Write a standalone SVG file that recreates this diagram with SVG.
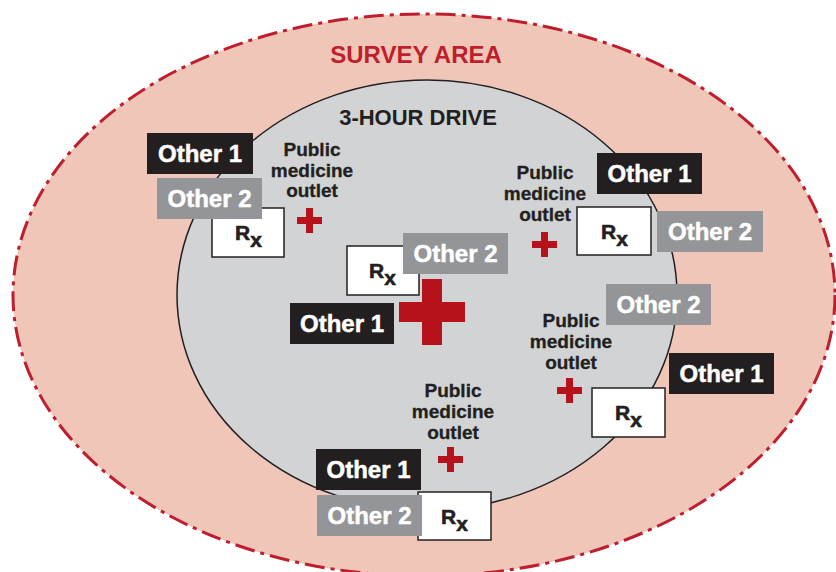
<svg xmlns="http://www.w3.org/2000/svg" width="836" height="572" viewBox="0 0 836 572">
<style>
.o1{fill:#231f20}
.o2{fill:#939598}
.ot{font-family:"Liberation Sans",Arial,sans-serif;font-weight:bold;font-size:24px;fill:#ffffff;stroke:#ffffff;stroke-width:0.5;text-anchor:middle}
.rx{fill:#ffffff;stroke:#231f20;stroke-width:1.5}
.rt{font-family:"Liberation Sans",Arial,sans-serif;font-weight:bold;fill:#231f20;stroke:#231f20;stroke-width:0.6}
.pm{font-family:"Liberation Sans",Arial,sans-serif;font-weight:bold;font-size:19px;fill:#231f20;stroke:#231f20;stroke-width:0.3;text-anchor:middle}
.cr{fill:#b5121b}
.ttl{font-family:"Liberation Sans",Arial,sans-serif;font-weight:bold;text-anchor:middle}
</style>
<defs>
<path id="cross" d="M-3.5,-12.5h7v9h9v7h-9v9h-7v-9h-9v-7h9z"/>
</defs>
<g id="survey-area">
<ellipse cx="424" cy="295" rx="411" ry="281" fill="#efc6b8" stroke="#be1e2d" stroke-width="3" stroke-dasharray="20 6 4 6"/>
<text class="ttl" x="416" y="63" font-size="24" fill="#be1e2d">SURVEY AREA</text>
</g>
<g id="three-hour-drive">
<ellipse cx="427" cy="295" rx="250" ry="215" fill="#d1d3d4" stroke="#231f20" stroke-width="1.5"/>
<text class="ttl" x="418" y="125" font-size="22" fill="#231f20">3-HOUR DRIVE</text>
</g>
<g id="cluster-top-left">
<rect class="o1" x="147" y="133" width="106" height="41"/>
<text class="ot" x="200" y="162">Other 1</text>
<rect class="rx" x="212" y="208" width="72" height="49"/>
<text class="rt" x="235" y="240" font-size="21">R<tspan y="247">x</tspan></text>
<rect class="o2" x="157" y="178" width="105" height="41"/>
<text class="ot" x="209.5" y="207">Other 2</text>
<text class="pm" x="312" y="156">Public</text>
<text class="pm" x="312" y="176.5">medicine</text>
<text class="pm" x="312" y="197">outlet</text>
<use href="#cross" class="cr" x="309.5" y="220.5"/>
</g>
<g id="cluster-top-right">
<rect class="o1" x="597" y="153" width="105" height="41"/>
<text class="ot" x="649.5" y="182">Other 1</text>
<rect class="rx" x="577" y="207" width="74" height="48"/>
<text class="rt" x="601" y="239" font-size="21">R<tspan y="246">x</tspan></text>
<rect class="o2" x="657" y="211" width="106" height="41"/>
<text class="ot" x="710" y="240">Other 2</text>
<text class="pm" x="545" y="179">Public</text>
<text class="pm" x="545" y="200">medicine</text>
<text class="pm" x="545" y="221">outlet</text>
<use href="#cross" class="cr" x="544.5" y="244.5"/>
</g>
<g id="cluster-center">
<rect class="rx" x="347" y="246" width="72" height="49"/>
<text class="rt" x="369" y="278" font-size="21">R<tspan y="285">x</tspan></text>
<rect class="o2" x="403" y="233" width="105" height="41"/>
<text class="ot" x="455.5" y="262">Other 2</text>
<rect class="o1" x="290" y="303" width="104" height="41"/>
<text class="ot" x="342" y="332">Other 1</text>
<path class="cr" d="M422,279h20v23h23v20h-23v23h-20v-23h-23v-20h23z"/>
</g>
<g id="cluster-right">
<rect class="o2" x="606" y="284" width="105" height="41"/>
<text class="ot" x="658.5" y="313">Other 2</text>
<rect class="o1" x="669" y="353" width="105" height="41"/>
<text class="ot" x="721.5" y="382">Other 1</text>
<rect class="rx" x="592" y="388" width="73" height="49"/>
<text class="rt" x="615" y="420" font-size="21">R<tspan y="427">x</tspan></text>
<text class="pm" x="571" y="327">Public</text>
<text class="pm" x="571" y="348">medicine</text>
<text class="pm" x="571" y="369">outlet</text>
<use href="#cross" class="cr" x="569.5" y="390.5"/>
</g>
<g id="cluster-bottom">
<text class="pm" x="453" y="397">Public</text>
<text class="pm" x="453" y="418">medicine</text>
<text class="pm" x="453" y="439">outlet</text>
<use href="#cross" class="cr" x="450.5" y="459.5"/>
<rect class="o1" x="316" y="449" width="105" height="41"/>
<text class="ot" x="368.5" y="478">Other 1</text>
<rect class="rx" x="418" y="492" width="73" height="48"/>
<text class="rt" x="441" y="524" font-size="21">R<tspan y="531">x</tspan></text>
<rect class="o2" x="317" y="495" width="105" height="41"/>
<text class="ot" x="369.5" y="524">Other 2</text>
</g>
</svg>
